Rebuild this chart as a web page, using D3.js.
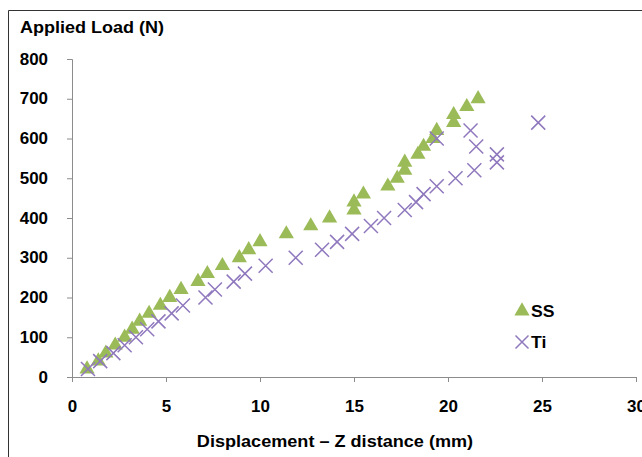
<!DOCTYPE html>
<html><head><meta charset="utf-8">
<script src="https://cdn.jsdelivr.net/npm/d3@7"></script>
<style>body{margin:0;background:#fff;} text{font-family:"Liberation Sans",Arial,sans-serif;font-weight:bold;}</style>
</head><body>
<svg id="c" width="642" height="457"></svg>
<script>
const ssX = [0.8,1.4,1.8,2.3,2.8,3.2,3.6,4.1,4.7,5.2,5.8,6.7,7.2,8.0,8.9,9.4,10.0,11.4,12.7,13.7,15.0,15.0,15.5,16.8,17.3,17.7,17.7,18.4,18.7,19.2,19.4,20.3,20.3,21.0,21.6];
const ssY = [20,40,60,80,100,120,140,160,180,200,220,240,260,280,300,320,340,360,380,400,420,440,460,480,500,520,540,560,580,600,620,640,660,680,700];
const tiX = [0.85,1.5,2.2,2.8,3.4,4.0,4.6,5.3,5.9,7.1,7.6,8.6,9.2,10.3,11.9,13.3,14.1,14.9,15.9,16.6,17.7,18.3,18.7,19.4,20.4,21.4,22.6,22.6,21.5,19.4,21.2,24.8];
const tiY = [20,40,60,80,100,120,140,160,180,200,220,240,260,280,300,320,340,360,380,400,420,440,460,480,500,520,540,560,580,600,620,640];
const xTicks = [0,5,10,15,20,25,30];
const yTicks = [0,100,200,300,400,500,600,700,800];
const seriesNames = ["SS","Ti"];

const svg = d3.select("#c");
const x = d3.scaleLinear().domain([0,30]).range([72,636]);
const y = d3.scaleLinear().domain([0,800]).range([377,59]);
const axisColor = "#8c8c8c";

function stretch(sel, f){
  sel.each(function(){
    const L = this.getComputedTextLength();
    d3.select(this).attr("textLength", L*f).attr("lengthAdjust","spacingAndGlyphs");
  });
}

// frame
svg.append("path").attr("d","M8.5,457 V10.5 H642").attr("fill","none").attr("stroke","#333").attr("stroke-width",1);

// y axis
const ya = svg.append("g").attr("transform","translate(72,0)")
  .call(d3.axisLeft(y).tickValues(yTicks).tickSize(5).tickPadding(19).tickFormat(d3.format("d")));
ya.select(".domain").attr("stroke",axisColor);
ya.selectAll(".tick line").attr("stroke",axisColor);
ya.selectAll(".tick text").attr("font-size",16).attr("fill","#000").attr("font-family","Liberation Sans, Arial").attr("font-weight","bold");
stretch(ya.selectAll(".tick text"), 1.06);

// x axis
const xa = svg.append("g").attr("transform","translate(0,377)")
  .call(d3.axisBottom(x).tickValues(xTicks).tickSize(5).tickPadding(19).tickFormat(d3.format("d")));
xa.select(".domain").attr("stroke",axisColor);
xa.selectAll(".tick line").attr("stroke",axisColor);
xa.selectAll(".tick text").attr("font-size",16).attr("fill","#000").attr("font-family","Liberation Sans, Arial").attr("font-weight","bold");
stretch(xa.selectAll(".tick text"), 1.06);

const green = "#9bbb59", purple = "#8f78bd";
const tri = d3.symbol().type(d3.symbolTriangle).size(100);
function cross(g, cx, cy, r){
  g.append("path").attr("d",`M${cx-r},${cy-r}L${cx+r},${cy+r}M${cx-r},${cy+r}L${cx+r},${cy-r}`)
   .attr("stroke",purple).attr("stroke-width",1.5).attr("fill","none");
}

// SS
svg.append("g").selectAll("path").data(ssX.map((d,i)=>[d,ssY[i]])).join("path")
  .attr("d",tri).attr("transform",d=>`translate(${x(d[0])},${y(d[1])})`).attr("fill",green);
// Ti
const tg = svg.append("g");
tiX.forEach((d,i)=>cross(tg, x(d), y(tiY[i]), 7));

// legend
svg.append("path").attr("d",tri).attr("transform","translate(522,311)").attr("fill",green);
stretch(svg.append("text").attr("x",531).attr("y",317).attr("font-size",16).text(seriesNames[0]), 1.1);
cross(svg, 522, 342, 6.5);
stretch(svg.append("text").attr("x",531).attr("y",348).attr("font-size",16).text(seriesNames[1]), 1.1);

// titles
stretch(svg.append("text").attr("x",20).attr("y",33).attr("font-size",16).text("Applied Load (N)"), 1.125);
const xt = svg.append("text").attr("x",335).attr("y",447).attr("text-anchor","middle").attr("font-size",16).text("Displacement – Z distance (mm)");
stretch(xt, 1.13);
</script>
</body></html>
